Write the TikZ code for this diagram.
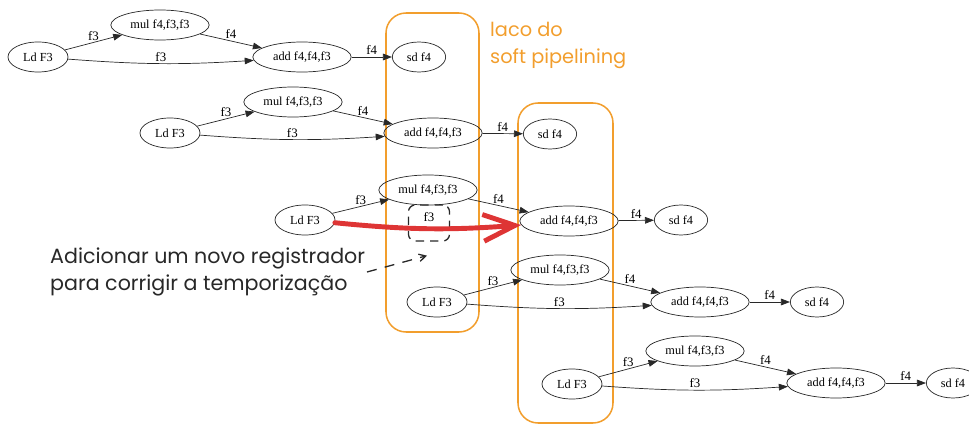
\documentclass[tikz,border=0pt]{standalone}
\usepackage{fontspec}
\setmainfont{Liberation Serif}
\newfontfamily\handfont{Poppins}
\usetikzlibrary{arrows.meta,shapes.geometric}
\definecolor{pipeorange}{RGB}{242,158,45}
\definecolor{fixred}{RGB}{222,53,53}
\definecolor{inkgray}{RGB}{40,40,40}

\begin{document}
\begin{tikzpicture}[x=0.03cm, y=-0.03cm,
	instr/.style={ellipse, draw=inkgray, line width=0.6pt, minimum height=0.9cm, inner sep=0pt, font=\fontsize{10.5}{12}\selectfont},
	ldnode/.style={instr, minimum width=1.8cm},
	opnode/.style={instr, minimum width=2.95cm},
	sdnode/.style={instr, minimum width=1.6cm},
	flow/.style={draw=inkgray, line width=0.6pt, -{Triangle[length=0.27cm,width=0.2cm]}},
	lbl/.style={font=\fontsize{11}{12}\selectfont, inner sep=1.5pt},
	pipebox/.style={draw=pipeorange, line width=1.3pt, rounded corners=0.6cm},
	regbox/.style={draw=inkgray, line width=1.1pt, dash pattern=on 0.25cm off 0.18cm, rounded corners=0.2cm, minimum width=1.23cm, minimum height=1.08cm, inner sep=0pt, text height=0.25cm, text depth=0.35cm, font=\fontsize{11}{12}\selectfont},
	fixarrow/.style={draw=fixred, line width=4.2pt, line cap=round, line join=round, -{Straight Barb[length=0.95cm,width=0.8cm]}},
	notearrow/.style={draw=inkgray, line width=1.1pt, dash pattern=on 0.3cm off 0.25cm, -{Straight Barb[length=0.2cm,width=0.22cm]}},
	hand/.style={handfont, align=left, inner sep=0pt},
	handfont/.style={font=\handfont\fontsize{17.6}{23}\selectfont}]
\useasboundingbox (0,0) rectangle (969,426);
\draw[pipebox] (386,13) rectangle (479,332);
\draw[pipebox] (518,103) rectangle (613,423);
\node[ldnode] (ld1) at (38,57) {Ld F3};
\node[opnode] (mul1) at (160,25) {mul f4,f3,f3};
\node[opnode] (add1) at (302,57) {add f4,f4,f3};
\node[sdnode] (sd1) at (419,57) {sd f4};
\node[ldnode] (ld2) at (170,133) {Ld F3};
\node[opnode] (mul2) at (293,102) {mul f4,f3,f3};
\node[opnode] (add2) at (433,133) {add f4,f4,f3};
\node[sdnode] (sd2) at (550,134) {sd f4};
\node[ldnode] (ld3) at (305,220) {Ld F3};
\node[opnode] (mul3) at (428,190) {mul f4,f3,f3};
\node[opnode] (add3) at (569,221) {add f4,f4,f3};
\node[sdnode] (sd3) at (681,220) {sd f4};
\node[ldnode] (ld4) at (437,302) {Ld F3};
\node[opnode] (mul4) at (560,270) {mul f4,f3,f3};
\node[opnode] (add4) at (700,302) {add f4,f4,f3};
\node[sdnode] (sd4) at (817,302) {sd f4};
\node[ldnode] (ld5) at (572,384) {Ld F3};
\node[opnode] (mul5) at (695,351) {mul f4,f3,f3};
\node[opnode] (add5) at (836,383) {add f4,f4,f3};
\node[sdnode] (sd5) at (953,383) {sd f4};
\draw[flow] (ld1) -- node[lbl, midway, above] {f3} (mul1);
\draw[flow] (ld1) to[bend right=4] node[lbl, midway, above] {f3} (add1);
\draw[flow] (mul1) -- node[lbl, midway, above] {f4} (add1);
\draw[flow] (add1) -- node[lbl, midway, above] {f4} (sd1);
\draw[flow] (ld2) -- node[lbl, midway, above] {f3} (mul2);
\draw[flow] (ld2) to[bend right=4] node[lbl, midway, above] {f3} (add2);
\draw[flow] (mul2) -- node[lbl, midway, above] {f4} (add2);
\draw[flow] (add2) -- node[lbl, midway, above] {f4} (sd2);
\draw[flow] (ld3) -- node[lbl, midway, above] {f3} (mul3);
\draw[flow] (mul3) -- node[lbl, midway, above] {f4} (add3);
\draw[flow] (add3) -- node[lbl, midway, above] {f4} (sd3);
\draw[flow] (ld4) -- node[lbl, midway, above] {f3} (mul4);
\draw[flow] (ld4) to[bend right=4] node[lbl, midway, above] {f3} (add4);
\draw[flow] (mul4) -- node[lbl, midway, above] {f4} (add4);
\draw[flow] (add4) -- node[lbl, midway, above] {f4} (sd4);
\draw[flow] (ld5) -- node[lbl, midway, above] {f3} (mul5);
\draw[flow] (ld5) to[bend right=4] node[lbl, midway, above] {f3} (add5);
\draw[flow] (mul5) -- node[lbl, midway, above] {f4} (add5);
\draw[flow] (add5) -- node[lbl, midway, above] {f4} (sd5);
\node[regbox] (reg) at (429,223) {f3};
\draw[fixarrow] (ld3) to[bend right=5] (add3);
\node[hand, text=pipeorange, anchor=west, font=\handfont\fontsize{16.5}{23}\selectfont] (title) at (490,45) {laco do\\soft pipelining};
\node[hand, text=inkgray, anchor=west] (note) at (50,272) {Adicionar um novo registrador\\para corrigir a temporização};
\draw[notearrow] ([xshift=0.05cm]note.east) -- ([xshift=-0.06cm, yshift=-0.42cm]reg.south);
\end{tikzpicture}
\end{document}
